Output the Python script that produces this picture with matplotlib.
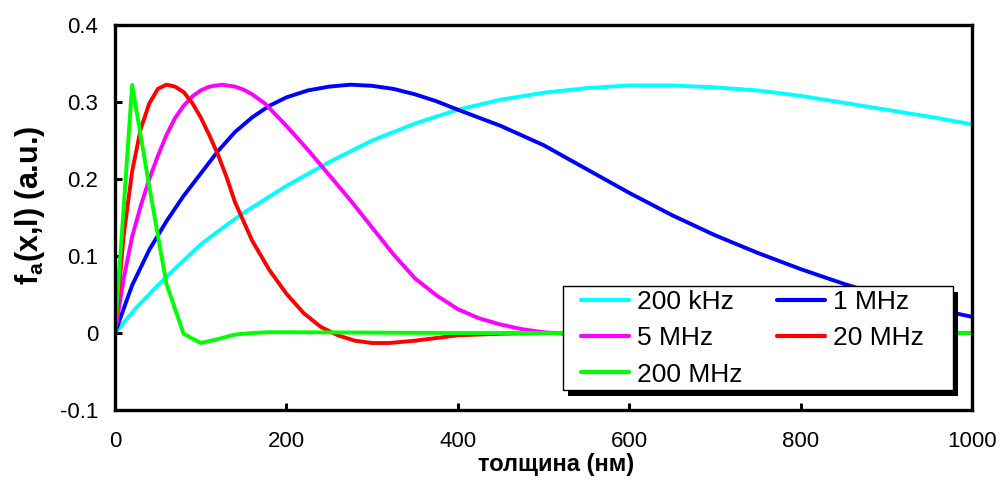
import matplotlib
matplotlib.use("Agg")
import matplotlib.pyplot as plt
import matplotlib.font_manager as fm
from matplotlib.patches import Rectangle
from matplotlib.ticker import FuncFormatter

# ---- data ----
x_200k = [0, 25, 50, 75, 100, 125, 150, 200, 250, 300, 350, 400, 450, 500, 550, 600,
          650, 700, 750, 800, 850, 900, 950, 1000]
y_200k = [0, 0.033, 0.062, 0.089, 0.115, 0.136, 0.156, 0.191, 0.222, 0.250, 0.272,
          0.290, 0.303, 0.312, 0.318, 0.3215, 0.3215, 0.319, 0.315, 0.308, 0.299,
          0.290, 0.281, 0.271]

x_1m = [0, 20, 40, 60, 80, 100, 120, 140, 160, 180, 200, 225, 250, 275, 300, 325,
        350, 375, 400, 450, 500, 550, 600, 650, 700, 750, 800, 850, 900, 950, 1000]
y_1m = [0, 0.062, 0.108, 0.145, 0.178, 0.207, 0.236, 0.261, 0.280, 0.295, 0.306,
        0.315, 0.320, 0.3225, 0.321, 0.317, 0.310, 0.301, 0.290, 0.269, 0.244,
        0.213, 0.182, 0.153, 0.127, 0.104, 0.083, 0.064, 0.047, 0.033, 0.021]

x_5m = [0, 10, 20, 30, 40, 50, 60, 70, 80, 90, 100, 110, 125, 140, 150, 160, 175,
        200, 225, 250, 275, 300, 325, 350, 375, 400, 425, 450, 475, 500, 550, 600,
        650, 700, 800, 1000]
y_5m = [0, 0.070, 0.125, 0.165, 0.200, 0.230, 0.257, 0.279, 0.295, 0.307, 0.315,
        0.320, 0.3225, 0.320, 0.316, 0.310, 0.298, 0.269, 0.238, 0.205, 0.172,
        0.137, 0.102, 0.071, 0.049, 0.031, 0.019, 0.011, 0.005, 0.001, -0.003,
        -0.003, -0.002, -0.001, 0, 0]

x_20m = [0, 10, 20, 30, 40, 50, 60, 70, 80, 90, 100, 110, 120, 130, 140, 160, 180,
         200, 220, 240, 260, 280, 300, 320, 350, 400, 450, 500, 1000]
y_20m = [0, 0.125, 0.210, 0.265, 0.298, 0.317, 0.3225, 0.320, 0.313, 0.299, 0.280,
         0.257, 0.232, 0.203, 0.170, 0.120, 0.082, 0.051, 0.026, 0.008, -0.003,
         -0.010, -0.013, -0.013, -0.010, -0.003, -0.001, 0, 0]

x_200m = [0, 20, 40, 60, 80, 100, 120, 140, 160, 180, 200, 300, 400, 600, 1000]
y_200m = [0, 0.322, 0.190, 0.064, -0.001, -0.013, -0.008, -0.002, 0, 0.001, 0.001,
          0.0005, 0, 0, 0]

labels = ["200 kHz", "1 MHz", "5 MHz", "20 MHz", "200 MHz"]
colors = ["#00FFFF", "#0000FF", "#FF00FF", "#FF0000", "#00FF00"]

x_ticks = [0, 200, 400, 600, 800, 1000]
y_ticks = [-0.1, 0, 0.1, 0.2, 0.3, 0.4]
x_label = "толщина (нм)"
y_label = "f$_a$(x,l) (a.u.)"

# ---- fonts ----
names = {f.name for f in fm.fontManager.ttflist}
main_font = "Liberation Sans" if "Liberation Sans" in names else "DejaVu Sans"
plt.rcParams["font.family"] = [main_font, "DejaVu Sans"]
plt.rcParams["mathtext.default"] = "regular"

fig = plt.figure(figsize=(10.02, 4.8), dpi=100)
ax = fig.add_axes([115 / 1002, 70 / 480, 857 / 1002, 385 / 480])

series = [(x_200k, y_200k), (x_1m, y_1m), (x_5m, y_5m), (x_20m, y_20m), (x_200m, y_200m)]
lines = []
for (xs, ys), lab, col in zip(series, labels, colors):
    ln, = ax.plot(xs, ys, color=col, lw=2.8, label=lab,
                  solid_joinstyle="round", solid_capstyle="round")
    lines.append(ln)

ax.set_xlim(0, 1000)
ax.set_ylim(-0.1, 0.4)
ax.set_xticks(x_ticks)
ax.set_yticks(y_ticks)
ax.yaxis.set_major_formatter(FuncFormatter(lambda v, p: "%g" % round(v, 3)))

for sp in ax.spines.values():
    sp.set_linewidth(2.4)
    sp.set_color("black")

ax.tick_params(axis="both", direction="in", length=5, width=2.2, color="black")
ax.tick_params(axis="x", pad=15, labelsize=16)
ax.tick_params(axis="y", pad=12, labelsize=16)

ax.set_xlabel(x_label, fontsize=17, fontweight="bold")
ax.xaxis.set_label_coords(0.5146, -0.112)
ax.set_ylabel(y_label, fontsize=22, fontweight="bold")
ax.yaxis.set_label_coords(-0.079, 0.532)

order = [0, 2, 4, 1, 3]
fs = 19
leg = ax.legend([lines[i] for i in order], [labels[i] for i in order],
                ncol=2, loc="upper left", bbox_to_anchor=(0.5434, 0.312),
                borderaxespad=0, borderpad=0, fontsize=fs, frameon=False,
                handlelength=1.82, handletextpad=0.3, columnspacing=1.33,
                labelspacing=0.47)
leg.set_zorder(7)
for lh in leg.get_lines():
    lh.set_linewidth(3)

fig.canvas.draw()
bb = leg.get_window_extent()
fx0, fx1 = bb.x0 - 18, bb.x1 + 29
fy0, fy1 = bb.y0 - 3, bb.y1 + 4
shadow = Rectangle((fx0 + 5, fy0 - 6), fx1 - fx0, fy1 - fy0, transform=None,
                   facecolor="black", edgecolor="none", zorder=5.8, clip_on=False)
frame = Rectangle((fx0, fy0), fx1 - fx0, fy1 - fy0, transform=None,
                  facecolor="white", edgecolor="black", lw=1.0, zorder=5.9, clip_on=False)
ax.add_patch(shadow)
ax.add_patch(frame)
ax.set_xlim(0, 1000)
ax.set_ylim(-0.1, 0.4)

fig.savefig("out.png", dpi=100)
